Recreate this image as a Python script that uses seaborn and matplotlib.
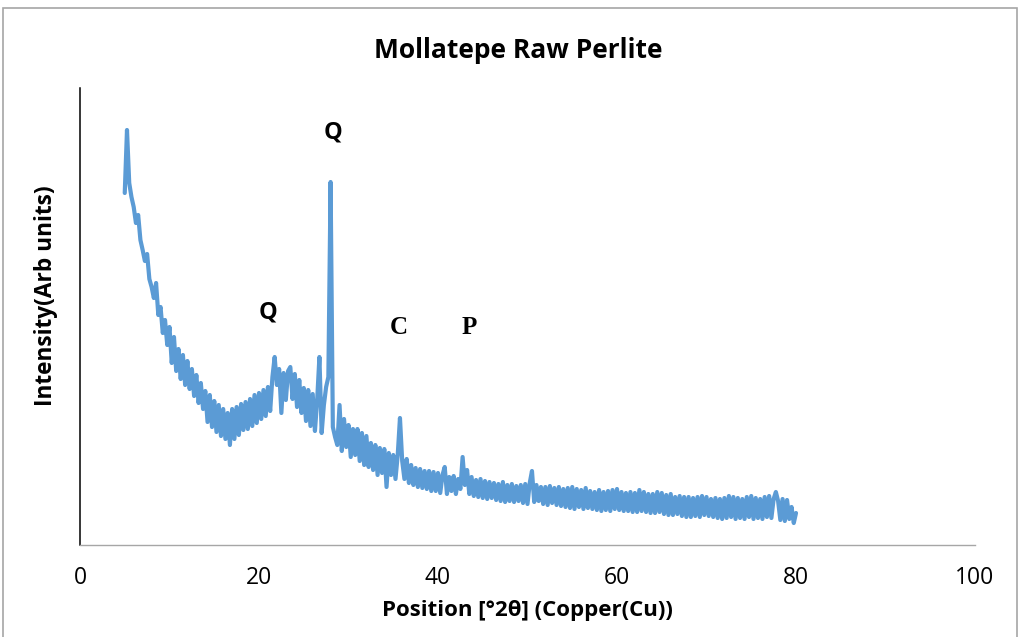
import numpy as np
import pandas as pd
import matplotlib.pyplot as plt
import seaborn as sns
from matplotlib.patches import Rectangle

# 2-theta grid: 5 to 80 deg, 0.25 deg step
two_theta = np.arange(5, 80.001, 0.25)

# intensity (arbitrary units), four points per degree
intensity = [
    352, 415, 362, 348,   # 5
    338, 322, 330, 305,   # 6
    295, 284, 291, 266,   # 7
    258, 247, 262, 230,   # 8
    238, 212, 225, 200,   # 9
    218, 182, 208, 174,   # 10
    196, 166, 190, 160,   # 11
    184, 156, 176, 149,   # 12
    170, 142, 162, 136,   # 13
    154, 123, 150, 118,   # 14
    144, 113, 140, 109,   # 15
    136, 106, 132, 100,   # 16
    136, 106, 138, 110,   # 17
    141, 115, 143, 116,   # 18
    146, 119, 150, 122,   # 19
    152, 126, 155, 129,   # 20
    158, 134, 168, 188,   # 21
    160, 176, 132, 172,   # 22
    145, 174, 178, 146,   # 23
    171, 138, 165, 132,   # 24
    157, 124, 155, 119,   # 25
    151, 114, 145, 188,   # 26
    112, 140, 158, 168,   # 27
    363, 118, 108, 100,   # 28
    140, 94, 126, 98,     # 29
    120, 88, 116, 90,     # 30
    116, 84, 112, 80,     # 31
    109, 78, 102, 75,     # 32
    100, 70, 97, 72,      # 33
    96, 58, 92, 70,       # 34
    90, 66, 90, 127,      # 35
    84, 66, 86, 62,       # 36
    80, 60, 77, 58,       # 37
    76, 57, 74, 56,       # 38
    74, 54, 73, 54,       # 39
    72, 52, 70, 78,       # 40
    51, 68, 54, 69,       # 41
    51, 66, 56, 88,       # 42
    60, 75, 51, 68,       # 43
    49, 65, 48, 66,       # 44
    47, 64, 46, 63,       # 45
    47, 62, 45, 61,       # 46
    44, 63, 43, 60,       # 47
    44, 61, 43, 59,       # 48
    44, 60, 42, 61,       # 49
    41, 62, 74, 43,       # 50
    60, 44, 58, 41,       # 51
    58, 40, 59, 42,       # 52
    57, 40, 58, 39,       # 53
    56, 38, 57, 37,       # 54
    58, 36, 56, 38,       # 55
    55, 36, 57, 37,       # 56
    54, 36, 53, 35,       # 57
    55, 34, 53, 35,       # 58
    54, 34, 55, 36,       # 59
    56, 35, 53, 34,       # 60
    52, 34, 53, 33,       # 61
    52, 33, 55, 34,       # 62
    53, 33, 51, 32,       # 63
    51, 32, 53, 33,       # 64
    52, 31, 50, 30,       # 65
    51, 30, 48, 31,       # 66
    49, 29, 48, 28,       # 67
    48, 28, 47, 29,       # 68
    48, 28, 49, 30,       # 69
    48, 29, 46, 28,       # 70
    47, 27, 46, 26,       # 71
    47, 27, 49, 28,       # 72
    48, 26, 47, 27,       # 73
    46, 26, 48, 28,       # 74
    49, 26, 47, 27,       # 75
    46, 26, 48, 28,       # 76
    49, 27, 46, 53,       # 77
    44, 25, 46, 24,       # 78
    45, 26, 38, 22,       # 79
    32,                   # 80
]

# phase labels: text, 2-theta, height, font
peak_labels = ['Q', 'Q', 'C', 'P']
peak_x = [21.0, 28.3, 35.6, 43.5]
peak_y = [233, 412, 218, 218]
peak_serif = [False, False, True, True]

df = pd.DataFrame({'two_theta': two_theta, 'intensity': intensity})

sns.set_style('white')
plt.rcParams['font.family'] = ['Open Sans', 'DejaVu Sans']
plt.rcParams['text.color'] = 'black'
plt.rcParams['axes.labelcolor'] = 'black'
plt.rcParams['xtick.labelcolor'] = 'black'

fig = plt.figure(figsize=(10.2, 6.37), dpi=100)
ax = fig.add_axes([80 / 1020, 1 - 545 / 637, 895 / 1020, 457 / 637])

sns.lineplot(data=df, x='two_theta', y='intensity', ax=ax,
             color='#5B9BD5', linewidth=3.0, estimator=None, sort=False)

ax.set_xlim(0, 100)
ax.set_ylim(0, 457)
ax.set_xticks([0, 20, 40, 60, 80, 100])
ax.set_yticks([])
ax.tick_params(axis='x', direction='out', length=7, width=1, color='#a6a6a6',
               labelsize=16.5, pad=8)

for side in ['top', 'right']:
    ax.spines[side].set_visible(False)
ax.spines['left'].set_color('#000000')
ax.spines['left'].set_linewidth(1.1)
ax.spines['bottom'].set_color('#a6a6a6')
ax.spines['bottom'].set_linewidth(1)

ax.set_xlabel('Position [°2θ] (Copper(Cu))', fontsize=16, fontweight='bold',
              labelpad=7)
ax.set_ylabel('Intensity(Arb units)', fontsize=16.3, fontweight='bold')
ax.yaxis.set_label_coords(-0.025, 0.545)
fig.text(518 / 1020, 1 - 50 / 637, 'Mollatepe Raw Perlite', ha='center',
         va='center', fontsize=19, fontweight='bold')

for lab, px, py, serif in zip(peak_labels, peak_x, peak_y, peak_serif):
    if serif:
        ax.text(px, py, lab, ha='center', va='center', fontsize=18,
                fontweight='bold', family='Liberation Serif')
    else:
        ax.text(px, py, lab, ha='center', va='center', fontsize=17,
                fontweight='bold')

# grey chart frame
fig.patches.append(Rectangle((3 / 1020, -0.01), 1014 / 1020, 1 - 8 / 637 + 0.01,
                             transform=fig.transFigure, fill=False,
                             edgecolor='#a6a6a6', linewidth=1.2))

fig.savefig('out.png', dpi=100)
